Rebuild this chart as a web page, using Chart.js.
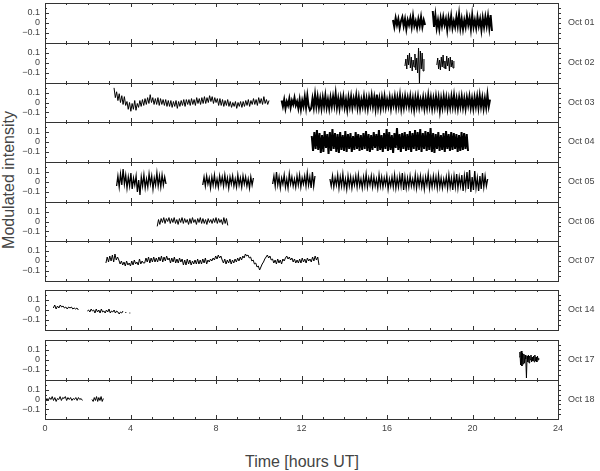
<!DOCTYPE html>
<html>
<head>
<meta charset="utf-8">
<script src="https://cdn.jsdelivr.net/npm/chart.js@4.4.1/dist/chart.umd.min.js"></script>
<style>
  body { margin: 0; background: #fff; }
  #wrap { position: relative; width: 600px; height: 471px; overflow: hidden; font-family: "Liberation Sans", Arial, sans-serif; color: #444; }
  #wrap canvas { position: absolute; left: 0; }
  .ytitle { position: absolute; left: 9px; top: 180px; transform: translate(-50%, -50%) rotate(-90deg); font-size: 16px; white-space: nowrap; }
  .xtitle { position: absolute; left: 302px; top: 462px; transform: translate(-50%, -50%); font-size: 16px; white-space: nowrap; }
</style>
</head>
<body>
<div id="wrap">
  <div class="ytitle">Modulated intensity</div>
  <div class="xtitle">Time [hours UT]</div>
</div>
<script>
const days = ["Oct 01", "Oct 02", "Oct 03", "Oct 04", "Oct 05", "Oct 06", "Oct 07", "Oct 14", "Oct 17", "Oct 18"];
const xTicks = [0, 4, 8, 12, 16, 20, 24];
const yTicks = [-0.1, 0, 0.1];

// segments: [start hour, end hour, samples in units of 0.01]
const oct01 = [
  [16.28, 17.78, [3,-4,5,-2,4,-5,2,6,-3,4,-6,3,-2,5,-4,7,-3,2,-5,4,-3,6,-4,3,-2]],
  [18.14, 20.91, [12,-4,8,-5,3,-6,5,-3,6,-2,4,-7,5,-3,7,-5,2,-4,6,-3,9,-5,4,-6,3,-4,7,-2,5,-6,8,-4,3,-5,6,-3,4,-7,5,-4,6,-3,7,-5,8,-8]]
];
const oct02 = [
  [16.84, 17.73, [-3,4,-6,8,-2,10,-5,6,-8,3,-4,9,-7,5,-10,15,-20,12,-6,10,-8,4]],
  [18.33, 19.13, [-2,5,-6,3,-7,6,-4,8,-5,2,-6,7,-3,5,-8,6,-4,3,-5,2]]
];
const oct03 = [
  [3.23, 10.48, [15,5,11,2,9,0,7,-2,6,-3, 1,-7,0,-9,-1,-7,2,-8,-1,-5, 2,-4,3,-3,4,-2,5,-1,8,0,
    5,-2,4,-2,5,-3,4,-2,3,-3, 3,-4,2,-4,2,-5,1,-4,2,-6, 1,-4,2,-3,3,-4,3,-2,3,-3,
    4,-2,3,-3,5,-1,4,-2,5,-1, 6,-1,5,0,7,1,6,-1,5,0, 4,-3,4,-3,3,-4,2,-3,3,-4,
    1,-5,0,-4,1,-6,0,-4,1,-5, 1,-4,2,-3,3,-4,2,-2,4,-2, 3,-3,5,-1,4,-2,6,-1,3,-2,2]],
  [11.07, 20.82, [2,-4,3,-6,1,-3,4,-5,2,-2, 5,-3,1,-6,3,-7,2,-4,6,-5, 7,-4,-8,-6,4,-5,8,-4,6,-5,
    4,-6,5,-4,7,-5,3,-6,5,-4, 6,-3,9,-5,4,-6,5,-3,6,-5, 3,-7,5,-4,6,-5,4,-3,7,-5,
    5,-6,3,-4,6,-5,4,-6,5,-3, 7,-4,5,-6,8,-5,4,-6,5,-4, 6,-5,3,-4,5,-6,4,-3,6,-5,
    5,-4,7,-6,4,-5,6,-3,5,-4, 6,-5,4,-7,5,-4,6,-5,3,-4, 5,-6,4,-5,7,-4,5,-6,4,-5,
    6,-4,5,-8,4,-5,6,-4,5,-6, 4,-5,6,-4,7,-5,4,-6,5,-4, 6,-5,4,-6,5,-3,6,-5,4,-6,
    5,-4,6,-5,7,-4,5,-6,4,-5, 8,-4,3]]
];
const oct04 = [
  [12.48, 19.79, [6,-9,10,-7,12,-8,9,-11,7,-10, 11,-6,8,-12,10,-9,13,-7,9,-10, 8,-11,10,-8,7,-9,11,-10,8,-7,
    9,-10,6,-8,10,-7,8,-9,7,-8, 9,-7,11,-9,8,-10,7,-8,10,-6, 8,-9,12,-8,7,-10,9,-7,13,-9,
    10,-8,7,-11,9,-6,14,-8,8,-10, 9,-7,10,-9,8,-8,11,-10,9,-7, 12,-9,10,-8,13,-10,9,-7,11,-9,
    10,-8,14,-10,9,-11,8,-7,10,-9, 7,-8,9,-10,11,-7,8,-9,10,-8, 9,-7,8,-10,7,-9,10,-8,9,-7, 8,-9]]
];
const oct05 = [
  [3.35, 5.66, [-4,6,-5,8,-3,13,-2,7,-6,5, -4,9,-7,4,-3,6,-10,2,-13,5, -4,7,-6,3,-5,8,-2,6,-7,4, -3,9,-4,6,-5,7,-3,5,-2]],
  [7.38, 9.75, [-3,5,-4,6,-2,4,-6,5,-3,7, -4,3,-5,6,-2,5,-4,7,-3,4, -6,5,-2,6,-4,3,-5,7,-3,4, -5,6,-2,5,-4,3,-6,5,-3,4]],
  [10.65, 12.63, [-2,6,-4,10,-3,5,-6,4,-2,7, -5,3,-6,8,-2,5,-4,3,-5,6, -3,7,-5,4,-2,6,-4,9,-3,5, -6,10,-4,6]],
  [13.33, 20.71, [3,-4,6,-5,4,-3,7,-6,5,-4, 8,-5,3,-7,6,-4,5,-6,4,-3, 6,-5,7,-4,3,-6,5,-4,8,-5,
    4,-3,6,-5,5,-4,3,-6,7,-4, 5,-5,4,-3,6,-7,3,-4,5,-5, 7,-6,4,-5,6,-4,9,-8,5,-6,
    4,-5,6,-4,3,-5,7,-6,5,-4, 6,-5,4,-7,5,-3,8,-6,4,-5, 6,-4,5,-6,7,-5,4,-6,3,-4,
    5,-6,7,-5,4,-8,6,-5,8,-6, 5,-4,7,-9,6,-5,10,-7,12,-10, 5,-8,11,-6,4,-9,6,-7,9,-5, 6,-4,3]]
];
const oct06 = [
  [5.25, 8.55, [-5,2,-3,3,-1,4,-2,3,0,4, -2,3,-1,4,-2,2,-3,3,-1,4, -2,3,-1,2,-3,3,-2,4,-1,2,
    -3,3,-1,4,-2,3,-2,2,-3,3, -1,2,-2,3,-1,4,-2,3,-1,2, -3,4,-2,3,-4]]
];
const oct07 = [
  [2.85, 12.82, [-2,4,-1,5,0,6,-1,7,1,4, 1,-3,0,-4,-1,-5,0,-4,-2,-5, 0,-4,1,-3,-1,-4,2,-3,0,-2,
    -2,3,-1,4,-2,3,-1,4,-1,3, -1,4,0,5,-1,4,0,5,1,3, -2,3,-1,4,-2,2,-2,3,-1,2,
    -4,1,-4,2,-3,1,-4,0,-3,1, -3,2,-3,1,-3,2,-2,3,-3,1, -1,2,0,3,1,5,2,6,3,5,
    1,-2,2,-3,1,-2,2,-3,1,-2, 2,-1,3,0,4,1,5,3,7,5, 6,3,4,0,1,-3,-2,-6,-5,-9,
    -6,-3,-1,2,4,6,3,5,1,2, -2,1,-3,2,-2,1,-3,2,0,3, 5,2,4,1,3,-1,2,-2,1,-2,
    2,-2,3,-1,2,-2,3,0,2,-1, 4,0,5,1,4,-4]]
];
const oct14 = [
  [0.39, 1.56, [2,5,1,4,2,5,3,4,2,3,1,3,2,3,1,2,1,2,0]],
  [1.98, 3.65, [-1,0,-2,1,-1,0,-3,1,-2,0,-3,1,-2,-1,-3,0,-2,1,-3,-1,-2,0,-3,-1,-2,-4,-2,-3,-1]],
  [3.76, 3.80, [-3,-2]],
  [3.95, 3.99, [-3,-3]]
];
const oct17 = [
  [22.19, 23.10, [3,8,-5,9,-6,7,-4,6,-3,5,1,-18,4,-2,5,-3,4,0,5,-2,3,-1,4,-2,5,-1,3,-2,4,0,2]]
];
const oct18 = [
  [0.03, 1.75, [-2,1,-1,2,0,3,-1,2,-2,1,0,3,-1,2,1,3,-1,2,0,2,-1,1,0,2,-1,2,0,1,-1]],
  [2.20, 2.73, [0,-2,2,-1,3,-2,2,-1,3,-2,1]]
];
const series = [oct01, oct02, oct03, oct04, oct05, oct06, oct07, oct14, oct17, oct18];

// segments that look like a solid band in the original (drawn with a heavier stroke)
const denseBands = { "Oct 01": [0, 1], "Oct 03": [1], "Oct 04": [0] };

// panel placement on the page (px)
const panelTops = [3, 43, 83, 122, 162, 202, 241, 290, 340, 380];
const panelBottoms = [43, 83, 122, 162, 202, 241, 281, 330, 380, 419];

function toPoints(segments) {
  const pts = [];
  segments.forEach(([from, to, v]) => {
    const step = (to - from) / (v.length - 1);
    v.forEach((val, i) => pts.push({ x: from + i * step, y: val / 100 }));
    pts.push({ x: to + 0.01, y: null });
  });
  return pts;
}

const fmt = v => v === 0 ? "0" : (v < 0 ? "\u2212" : "") + Math.abs(v).toFixed(1);

const framePlugin = {
  id: "panelFrame",
  afterDraw(chart, args, opts) {
    const { ctx, chartArea: a, scales } = chart;
    const x = scales.x, y = scales.y;
    ctx.save();
    ctx.strokeStyle = "#333";
    ctx.lineWidth = 1;
    ctx.strokeRect(a.left + 0.5, a.top + 0.5, a.right - a.left, a.bottom - a.top);
    ctx.beginPath();
    for (let h = 0; h <= 24; h++) {
      const px = Math.round(x.getPixelForValue(h)) + 0.5;
      const len = h % 4 === 0 ? 4 : 2;
      ctx.moveTo(px, a.top); ctx.lineTo(px, a.top + len);
      ctx.moveTo(px, a.bottom); ctx.lineTo(px, a.bottom - len);
    }
    for (let k = -3; k <= 3; k++) {
      const py = Math.round(y.getPixelForValue(k * 0.05)) + 0.5;
      ctx.moveTo(a.left, py); ctx.lineTo(a.left + (k % 2 === 0 ? 4 : 2), py);
      ctx.moveTo(a.right, py); ctx.lineTo(a.right + 3, py);
    }
    ctx.stroke();
    ctx.fillStyle = "#444";
    ctx.font = '9px "Liberation Sans", Arial, sans-serif';
    ctx.textBaseline = "middle";
    ctx.fillText(opts.label, a.right + 10, (a.top + a.bottom) / 2);
    ctx.restore();
  }
};

const wrap = document.getElementById("wrap");
const tickFont = { family: '"Liberation Sans", Arial, sans-serif', size: 9 };

days.forEach((day, i) => {
  const last = i === days.length - 1;
  const h = panelBottoms[i] - panelTops[i];
  const canvas = document.createElement("canvas");
  canvas.width = 600;
  canvas.height = h + 8 + (last ? 24 : 0);
  canvas.style.top = (panelTops[i] - 4) + "px";
  wrap.appendChild(canvas);

  const denseIdx = denseBands[day] || [];
  const denseSegs = series[i].filter((s, k) => denseIdx.includes(k));
  const lineSegs = series[i].filter((s, k) => !denseIdx.includes(k));

  const datasets = [{
    data: toPoints(lineSegs),
    borderColor: "#000",
    borderWidth: day === "Oct 05" ? 1.3 : 1,
    pointRadius: 0,
    spanGaps: false,
    tension: 0
  }];
  if (denseSegs.length) {
    datasets.push({
      data: toPoints(denseSegs),
      borderColor: "#000",
      borderWidth: 2,
      pointRadius: 0,
      spanGaps: false,
      tension: 0
    });
  }

  new Chart(canvas.getContext("2d"), {
    type: "line",
    data: { datasets },
    options: {
      responsive: false,
      animation: false,
      devicePixelRatio: 1,
      events: [],
      layout: { padding: { left: 0, right: 42, top: 4, bottom: 4 } },
      plugins: {
        legend: { display: false },
        tooltip: { enabled: false },
        panelFrame: { label: day }
      },
      scales: {
        x: {
          type: "linear",
          min: 0,
          max: 24,
          display: last,
          grid: { display: false, drawTicks: false },
          border: { display: false },
          afterBuildTicks: s => { s.ticks = xTicks.map(v => ({ value: v })); },
          afterFit: s => {
            s.height = last ? 24 : 0;
            s.paddingLeft = 0; s.paddingRight = 0;
          },
          ticks: { font: tickFont, color: "#444", padding: 4, maxRotation: 0 }
        },
        y: {
          min: -0.2,
          max: 0.2,
          grid: { display: false, drawTicks: false },
          border: { display: false },
          afterBuildTicks: s => { s.ticks = yTicks.map(v => ({ value: v })); },
          afterFit: s => {
            s.width = 45;
            s.paddingTop = 0; s.paddingBottom = 0;
          },
          ticks: { font: tickFont, color: "#444", padding: 5, callback: v => fmt(v) }
        }
      }
    },
    plugins: [framePlugin]
  });
});
</script>
</body>
</html>
